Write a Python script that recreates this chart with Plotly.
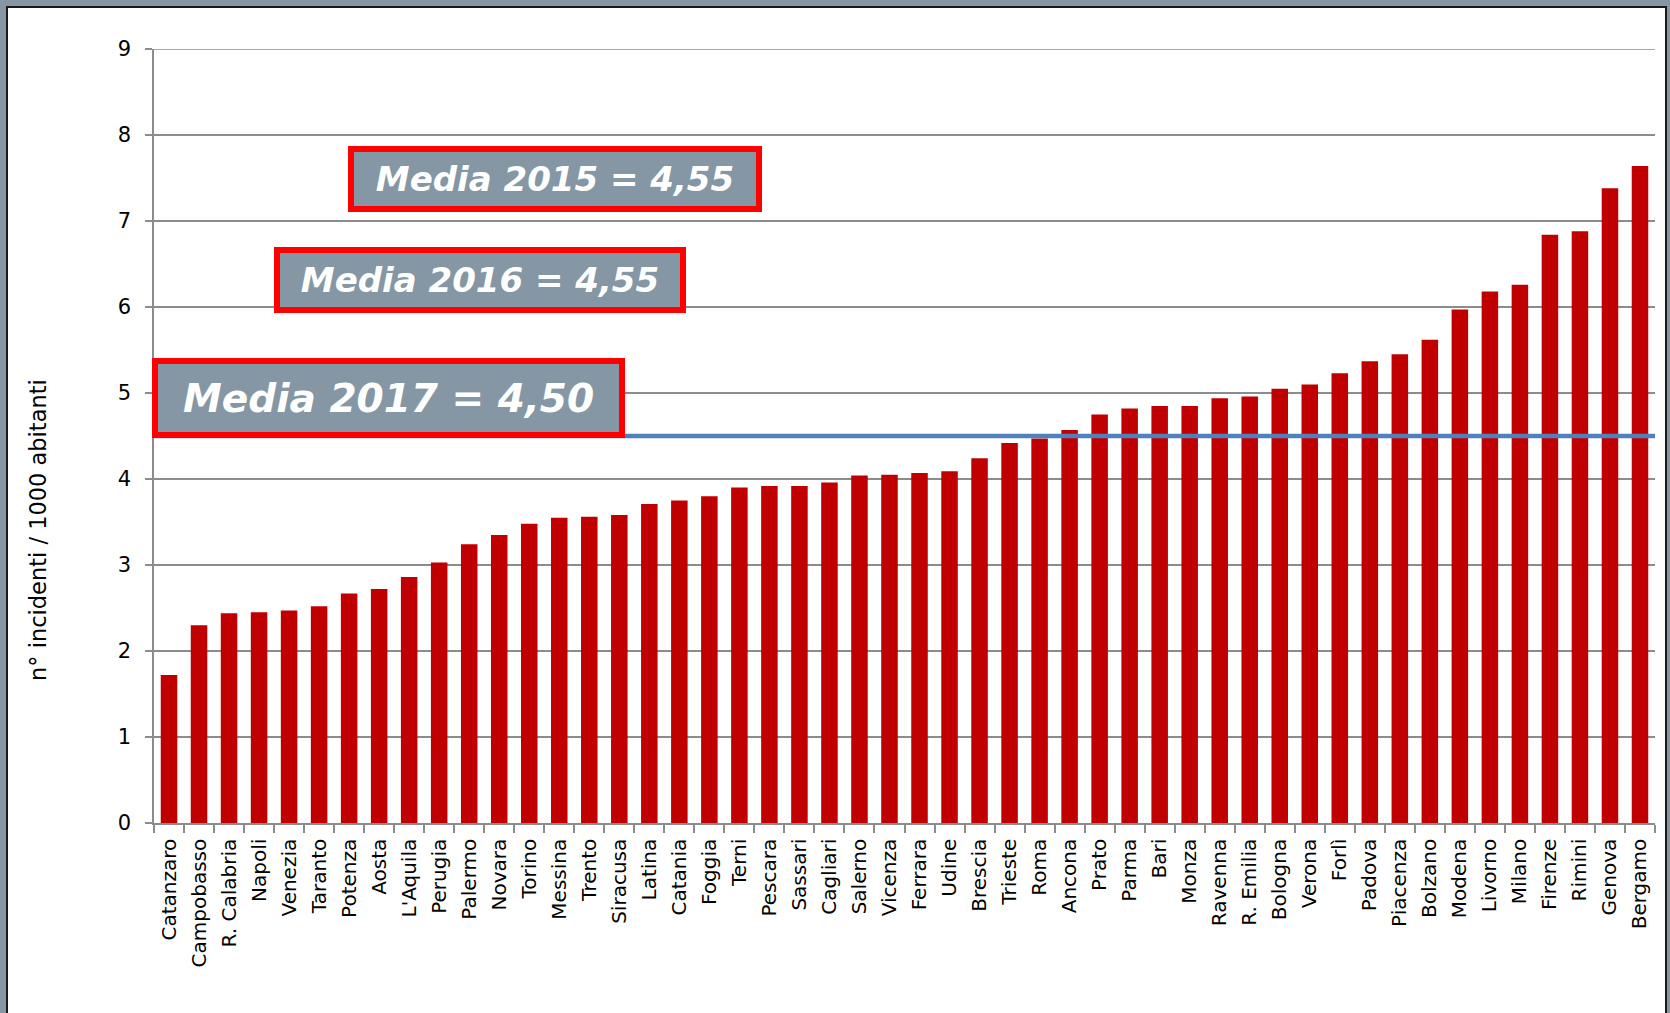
import plotly.graph_objects as go

cities = [
    "Catanzaro", "Campobasso", "R. Calabria", "Napoli", "Venezia", "Taranto",
    "Potenza", "Aosta", "L'Aquila", "Perugia", "Palermo", "Novara", "Torino",
    "Messina", "Trento", "Siracusa", "Latina", "Catania", "Foggia", "Terni",
    "Pescara", "Sassari", "Cagliari", "Salerno", "Vicenza", "Ferrara", "Udine",
    "Brescia", "Trieste", "Roma", "Ancona", "Prato", "Parma", "Bari", "Monza",
    "Ravenna", "R. Emilia", "Bologna", "Verona", "Forlì", "Padova", "Piacenza",
    "Bolzano", "Modena", "Livorno", "Milano", "Firenze", "Rimini", "Genova",
    "Bergamo",
]
incidenti = [
    1.72, 2.30, 2.44, 2.45, 2.47, 2.52,
    2.67, 2.72, 2.86, 3.03, 3.24, 3.35, 3.48,
    3.55, 3.56, 3.58, 3.71, 3.75, 3.80, 3.90,
    3.92, 3.92, 3.96, 4.04, 4.05, 4.07, 4.09,
    4.24, 4.42, 4.47, 4.57, 4.75, 4.82, 4.85, 4.85,
    4.94, 4.96, 5.05, 5.10, 5.23, 5.37, 5.45,
    5.62, 5.97, 6.18, 6.26, 6.84, 6.88, 7.38,
    7.64,
]
media_2017 = 4.50
y_max = 9
media_labels = ["Media 2015 = 4,55", "Media 2016 = 4,55", "Media 2017 = 4,50"]

W, H = 1670, 1013
ML, MR, MT, MB = 154, 15, 49, 190
PW, PH = W - ML - MR, H - MT - MB


def px(x):
    return (x - ML) / PW


def py(y):
    return (H - MB - y) / PH


GRID = "#8c8c8c"
FRAME = "#8597a4"

fig = go.Figure()

fig.add_trace(go.Bar(
    x=cities,
    y=incidenti,
    marker=dict(color="#c00000", line=dict(width=0)),
    showlegend=False,
))

fig.update_layout(
    width=W, height=H,
    margin=dict(l=ML, r=MR, t=MT, b=MB, pad=0),
    paper_bgcolor=FRAME,
    plot_bgcolor="white",
    bargap=0.45,
    font=dict(family="DejaVu Sans", color="black"),
)

fig.update_xaxes(
    type="category",
    tickangle=-90,
    tickfont=dict(size=20),
    showgrid=False,
    showline=True, linecolor=GRID, linewidth=1.5,
    ticks="outside", tickson="boundaries", ticklen=8, tickcolor=GRID, tickwidth=1.5,
    ticklabelstandoff=6,
)
fig.update_yaxes(
    range=[0, y_max], dtick=1,
    tickfont=dict(size=21),
    showgrid=True, gridcolor=GRID, gridwidth=1.5,
    zeroline=False,
    showline=True, linecolor=GRID, linewidth=1.5,
    ticks="outside", ticklen=7, tickcolor=GRID, tickwidth=1.5,
    ticklabelstandoff=10,
)

# white sheet inside the grey frame
fig.add_shape(
    type="rect", xref="paper", yref="paper",
    x0=px(7), x1=px(1666), y0=py(1030), y1=py(7),
    fillcolor="white", line=dict(color="#1a1a1a", width=2), layer="below",
)

# top gridline (plotly drops the one on the edge)
fig.add_shape(
    type="line", xref="paper", yref="y",
    x0=0, x1=1, y0=y_max, y1=y_max,
    line=dict(color=GRID, width=1.5), layer="below",
)

# average line
fig.add_shape(
    type="line", xref="paper", yref="y",
    x0=0, x1=1, y0=media_2017, y1=media_2017,
    line=dict(color="#4f81bd", width=4.5), layer="above",
)

boxes = [
    # (label, center x, center y, outer width, outer height, font size)
    (media_labels[0], 555, 179, 414, 66, 34),
    (media_labels[1], 480, 280, 412, 66, 34),
    (media_labels[2], 388, 398, 473, 80, 39),
]
for label, cx, cy, bw, bh, fs in boxes:
    fig.add_annotation(
        text=label, xref="paper", yref="paper",
        x=px(cx), y=py(cy), xanchor="center", yanchor="middle",
        showarrow=False,
        width=bw - 12, height=bh - 12,
        bgcolor="#8597a4", bordercolor="#ff0000", borderwidth=6, borderpad=0,
        font=dict(family="DejaVu Sans", size=fs, color="white", weight="bold", style="italic"),
    )

fig.add_annotation(
    text="n° incidenti / 1000 abitanti", xref="paper", yref="paper",
    x=px(38), y=py(530), xanchor="center", yanchor="middle",
    textangle=-90, showarrow=False,
    font=dict(family="DejaVu Sans", size=22.5, color="black"),
)

fig.write_html("out.html", config={"displayModeBar": False},
               post_script="document.body.style.margin='0';")
